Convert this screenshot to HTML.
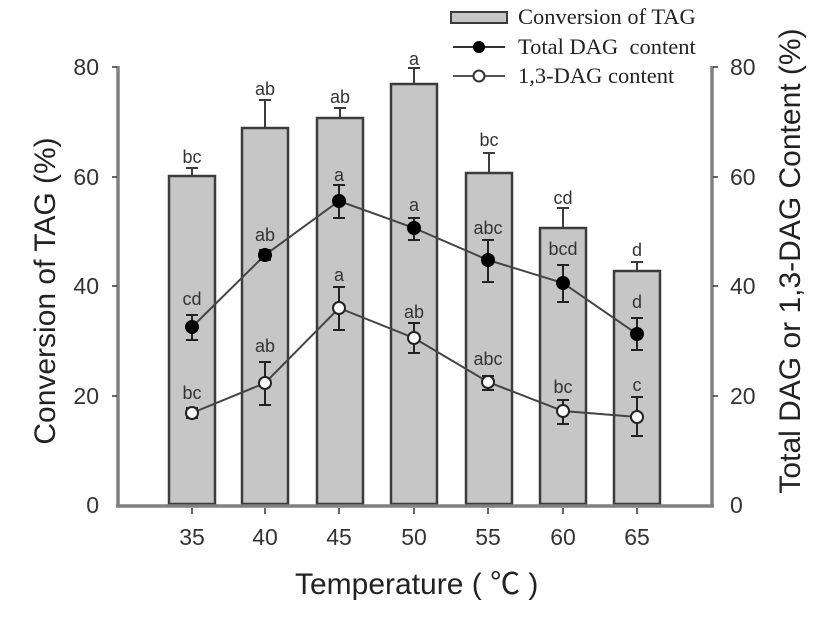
<!DOCTYPE html>
<html>
<head>
<meta charset="utf-8">
<style>
html,body{margin:0;padding:0;background:#fff;}
svg{display:block;}
.tl{font-family:"Liberation Sans",Arial,sans-serif;font-size:23px;fill:#333;}
.lt{font-family:"Liberation Sans",Arial,sans-serif;font-size:18px;fill:#333;text-anchor:middle;}
.ti{font-family:"Liberation Sans","Noto Sans CJK SC",sans-serif;font-size:30px;fill:#222;}
.lg{font-family:"Liberation Serif",serif;font-size:22.5px;fill:#222;}
</style>
</head>
<body>
<svg width="827" height="630" viewBox="0 0 827 630" xmlns="http://www.w3.org/2000/svg">
<rect width="827" height="630" fill="#fff"/>

<!-- Bars -->
<g fill="#c6c6c6" stroke="#3c3c3c" stroke-width="2.5">
<rect x="169" y="176" width="46" height="328"/>
<rect x="242" y="128" width="46" height="376"/>
<rect x="317" y="118" width="46" height="386"/>
<rect x="391" y="84" width="46" height="420"/>
<rect x="466" y="173" width="46" height="331"/>
<rect x="540" y="228" width="46" height="276"/>
<rect x="614" y="271" width="46" height="233"/>
</g>
<!-- bar error bars -->
<g stroke="#3c3c3c" stroke-width="2" fill="none">
<path d="M192 176V168M186 168H198"/>
<path d="M265 128V100M259 100H271"/>
<path d="M340 118V108M334 108H346"/>
<path d="M414 84V68M408 68H420"/>
<path d="M489 173V153M483 153H495"/>
<path d="M563 228V208M557 208H569"/>
<path d="M637 271V262M631 262H643"/>
</g>
<g class="lt">
<text x="192" y="163">bc</text>
<text x="265" y="95">ab</text>
<text x="340" y="103">ab</text>
<text x="414" y="65">a</text>
<text x="489" y="146">bc</text>
<text x="563" y="204">cd</text>
<text x="637" y="256">d</text>
</g>

<!-- Total DAG -->
<polyline points="192,327 265,255 339,201 414,228 488,260 563,283 637,334" fill="none" stroke="#444" stroke-width="2"/>
<g stroke="#222" stroke-width="2" fill="none">
<path d="M192 315V340M186 315H198M186 340H198"/>
<path d="M265 250V260M259 250H271M259 260H271"/>
<path d="M339 185V218M333 185H345M333 218H345"/>
<path d="M414 218V240M408 218H420M408 240H420"/>
<path d="M488 240V282M482 240H494M482 282H494"/>
<path d="M563 265V302M557 265H569M557 302H569"/>
<path d="M637 318V350M631 318H643M631 350H643"/>
</g>
<g fill="#000" stroke="#000" stroke-width="1">
<circle cx="192" cy="327" r="6.5"/>
<circle cx="265" cy="255" r="6.5"/>
<circle cx="339" cy="201" r="6.5"/>
<circle cx="414" cy="228" r="6.5"/>
<circle cx="488" cy="260" r="6.5"/>
<circle cx="563" cy="283" r="6.5"/>
<circle cx="637" cy="334" r="6.5"/>
</g>
<g class="lt">
<text x="192" y="305">cd</text>
<text x="265" y="241">ab</text>
<text x="339" y="181">a</text>
<text x="414" y="211">a</text>
<text x="488" y="234">abc</text>
<text x="563" y="255">bcd</text>
<text x="637" y="308">d</text>
</g>

<!-- 1,3-DAG -->
<polyline points="192,413 265,383 339,308 414,338 488,382 563,411 637,417" fill="none" stroke="#444" stroke-width="2"/>
<g stroke="#222" stroke-width="2" fill="none">
<path d="M192 408V418M186 408H198M186 418H198"/>
<path d="M265 362V405M259 362H271M259 405H271"/>
<path d="M339 287V330M333 287H345M333 330H345"/>
<path d="M414 323V353M408 323H420M408 353H420"/>
<path d="M488 376V390M482 376H494M482 390H494"/>
<path d="M563 400V424M557 400H569M557 424H569"/>
<path d="M637 397V436M631 397H643M631 436H643"/>
</g>
<g fill="#fff" stroke="#222" stroke-width="2">
<circle cx="192" cy="413" r="6"/>
<circle cx="265" cy="383" r="6"/>
<circle cx="339" cy="308" r="6"/>
<circle cx="414" cy="338" r="6"/>
<circle cx="488" cy="382" r="6"/>
<circle cx="563" cy="411" r="6"/>
<circle cx="637" cy="417" r="6"/>
</g>
<g class="lt">
<text x="192" y="399">bc</text>
<text x="265" y="352">ab</text>
<text x="339" y="281">a</text>
<text x="414" y="318">ab</text>
<text x="488" y="365">abc</text>
<text x="563" y="393">bc</text>
<text x="637" y="391">c</text>
</g>

<!-- Axes -->
<g stroke="#808080" stroke-width="3.5" fill="none">
<path d="M118 66V507"/>
<path d="M712 66V507"/>
<path d="M116 506H714"/>
</g>
<g stroke="#333" stroke-width="1.5">
<path d="M112 67H117M112 177H117M112 286H117M112 396H117"/>
<path d="M713 67H718M713 177H718M713 286H718M713 396H718"/>
<path d="M192 508V514M265 508V514M339 508V514M414 508V514M488 508V514M563 508V514M637 508V514"/>
</g>

<!-- Tick labels -->
<g class="tl" text-anchor="end">
<text x="99" y="75">80</text>
<text x="99" y="185">60</text>
<text x="99" y="294">40</text>
<text x="99" y="404">20</text>
<text x="99" y="513">0</text>
</g>
<g class="tl" text-anchor="start">
<text x="730" y="75">80</text>
<text x="730" y="185">60</text>
<text x="730" y="294">40</text>
<text x="730" y="404">20</text>
<text x="730" y="513">0</text>
</g>
<g class="tl" text-anchor="middle">
<text x="192" y="545">35</text>
<text x="265" y="545">40</text>
<text x="339" y="545">45</text>
<text x="414" y="545">50</text>
<text x="488" y="545">55</text>
<text x="563" y="545">60</text>
<text x="637" y="545">65</text>
</g>

<!-- Axis titles -->
<text class="ti" x="295" y="594" xml:space="preserve">Temperature ( ℃ )</text>
<text class="ti" text-anchor="middle" transform="translate(55,291) rotate(-90)">Conversion of TAG (%)</text>
<text class="ti" text-anchor="middle" transform="translate(800,261) rotate(-90)">Total DAG or 1,3-DAG Content (%)</text>

<!-- Legend -->
<rect x="451" y="12" width="56" height="11" fill="#c6c6c6" stroke="#3c3c3c" stroke-width="2"/>
<path d="M453 47H505" stroke="#333" stroke-width="2"/>
<circle cx="479" cy="47" r="6" fill="#000"/>
<path d="M453 76H505" stroke="#555" stroke-width="2"/>
<circle cx="479" cy="76" r="5.5" fill="#fff" stroke="#333" stroke-width="2"/>
<text class="lg" x="518" y="24">Conversion of TAG</text>
<text class="lg" x="518" y="54" xml:space="preserve">Total DAG  content</text>
<text class="lg" x="518" y="83">1,3-DAG content</text>
</svg>
</body>
</html>
